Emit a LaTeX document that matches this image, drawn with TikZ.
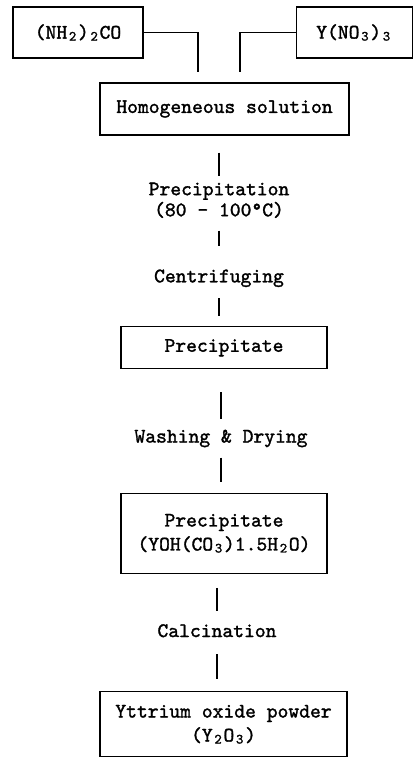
\documentclass[tikz,border=0pt]{standalone}
\usepackage{fontspec}
\setmonofont{lmmono10-regular.otf}[FakeBold=1.5]
\usetikzlibrary{positioning}
\newcommand\sbs[1]{\makebox[10.8pt]{\raisebox{-2pt}{\fontsize{14}{14}\selectfont #1}}}

\begin{document}
\begin{tikzpicture}[x=1pt,y=1pt,
    every node/.style={font=\ttfamily\fontsize{20.6}{24}\selectfont},
    stage/.style={draw, line width=1.1pt, align=center, inner sep=0pt},
    note/.style={align=center, inner sep=0pt},
    word/.style={inner sep=0pt, text height=12pt, text depth=4pt},
    link/.style={line width=1.4pt}]
  \useasboundingbox (0,0) rectangle (412,-767);

  % raw materials
  \node[stage, minimum width=130pt, minimum height=51pt] (urea) at (78,-32.5) {(NH\sbs{2})\sbs{2}CO};
  \node[stage, minimum width=116pt, minimum height=51pt, right=152pt of urea] (ynit) {Y(NO\sbs{3})\sbs{3}};
  \node[stage, minimum width=249pt, minimum height=52pt] (hom) at (224.5,-109) {Homogeneous solution};
  \coordinate[above=10pt of hom.north, xshift=-26.5pt] (in1);
  \coordinate[above=10pt of hom.north, xshift=15.5pt] (in2);

  % process chain
  \node[note, below=46.9pt of hom, xshift=-5.5pt] (precip) {Precipitation\\[-3pt](80 - 100°C)};
  \node[word, below=52pt of precip] (centr) {Centrifuging};
  \node[stage, minimum width=206pt, minimum height=42pt, below=39.7pt of centr, xshift=5pt] (pre1) {Precipitate};
  \node[word, below=61pt of pre1, xshift=-3pt] (wash) {Washing \& Drying};
  \node[stage, minimum width=206pt, minimum height=80pt, below=46pt of wash, xshift=3pt] (pre2) {Precipitate\\(YOH(CO\sbs{3})1.5H\sbs{2}O)};
  \node[word, below=51pt of pre2, xshift=-7pt] (calc) {Calcination};
  \node[stage, minimum width=247pt, minimum height=65pt, below=50pt of calc, xshift=6.5pt] (yox) {Yttrium oxide powder\\(Y\sbs{2}O\sbs{3})};

  \draw[link] (urea.east) -| (in1);
  \draw[link] (ynit.west) -| (in2);
  \draw[link, shorten <=17pt, shorten >=6.5pt] (hom.south -| precip) -- (precip.north);
  \draw[link, shorten <=12.5pt, shorten >=24pt] (precip.south) -- (centr.north);
  \draw[link, shorten <=11.7pt, shorten >=10pt] (centr.south) -- (pre1.north -| centr);
  \draw[link, shorten <=23pt, shorten >=11pt] (pre1.south -| wash) -- (wash.north);
  \draw[link, shorten <=11pt, shorten >=11pt] (wash.south) -- (pre2.north -| wash);
  \draw[link, shorten <=14pt, shorten >=14pt] (pre2.south -| calc) -- (calc.north);
  \draw[link, shorten <=13pt, shorten >=12pt] (calc.south) -- (yox.north -| calc);
\end{tikzpicture}
\end{document}
